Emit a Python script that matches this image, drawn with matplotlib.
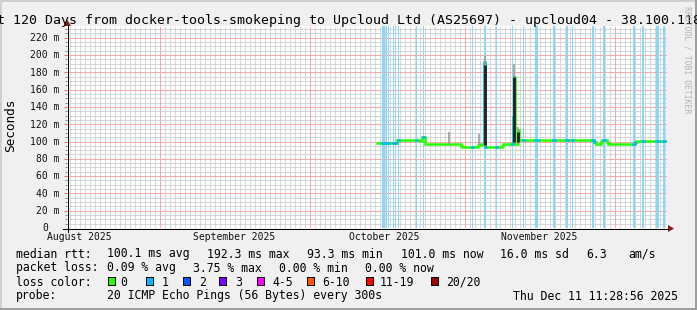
import numpy as np
import matplotlib
matplotlib.use("Agg")
import matplotlib.pyplot as plt
import matplotlib.dates as mdates
from matplotlib.patches import Rectangle, Polygon
from matplotlib.lines import Line2D
import pandas as pd

W, H, DPI = 697, 310, 100
MONO = "DejaVu Sans Mono"

# ---------------- data ----------------
title = "Last 120 Days from docker-tools-smokeping to Upcloud Ltd (AS25697) - upcloud04 - 38.100.118"
end_time = pd.Timestamp("2025-12-11 11:28:56")
span_days = 120

month_starts = ["2025-09-01", "2025-10-01", "2025-11-01", "2025-12-01"]
month_labels = ["August 2025", "September 2025", "October 2025", "November 2025"]
month_label_dates = ["2025-08-16", "2025-09-16", "2025-10-16", "2025-11-16"]

ytick_values = [0, 20, 40, 60, 80, 100, 120, 140, 160, 180, 200, 220]
y_unit = "m"
y_label = "Seconds"

# median RTT (ms), step series (value holds until next time)
median_times = [
    "2025-10-14 12:55", "2025-10-18 10:00", "2025-10-23 01:50", "2025-10-23 10:00",
    "2025-10-23 23:30", "2025-10-31 06:40", "2025-10-31 13:50", "2025-11-03 16:15",
    "2025-11-04 06:40", "2025-11-04 20:30", "2025-11-05 02:30", "2025-11-08 11:30",
    "2025-11-08 18:40", "2025-11-10 16:15", "2025-11-10 21:00", "2025-11-11 02:00",
    "2025-11-11 15:00", "2025-11-11 21:30", "2025-11-26 21:00", "2025-11-27 06:40",
    "2025-11-28 06:40", "2025-11-28 13:50", "2025-11-29 11:30", "2025-11-29 18:40",
    "2025-12-05 01:50", "2025-12-05 11:30", "2025-12-11 10:50",
]
median_values = [
    98.0, 102.3, 100.5, 104.8,
    97.1, 95.0, 93.3, 95.5,
    97.3, 192.3, 93.5, 95.0,
    97.3, 128.5, 175.0, 97.3,
    113.3, 102.0, 100.0, 97.3,
    100.0, 102.0, 100.0, 97.3,
    99.0, 101.0, 101.0,
]

# smoke (spread of pings) around a few samples
smoke_times = ["2025-10-28 21:00", "2025-11-03 21:00", "2025-11-04 23:30",
               "2025-11-10 22:00", "2025-11-11 18:00"]
smoke_low = [97.1, 95.5, 93.5, 97.3, 97.3]
smoke_dark_high = [97.1, 95.5, 189.0, 175.0, 111.0]
smoke_light_high = [111.0, 109.0, 199.0, 190.0, 117.0]

# periods with packet loss (1 of 20 lost): centre time, duration in hours
loss_times = [
    "2025-10-15 18:40", "2025-10-16 10:00", "2025-10-16 18:40", "2025-10-17 17:15",
    "2025-10-18 04:15", "2025-10-18 19:40", "2025-10-22 09:00", "2025-10-23 18:40",
    "2025-11-02 12:55", "2025-11-05 00:25", "2025-11-07 10:30", "2025-11-10 13:50",
    "2025-11-12 19:40", "2025-11-15 09:00", "2025-11-18 21:00", "2025-11-21 12:55",
    "2025-11-22 13:25", "2025-11-26 16:15", "2025-11-28 21:00", "2025-12-04 22:00",
    "2025-12-06 16:15", "2025-12-09 13:50", "2025-12-10 22:30",
]
loss_hours = [14, 6, 7, 6, 5, 5, 5, 8, 7, 10, 6, 6, 7, 14, 8, 10, 7, 10, 9, 8, 7, 12, 10]

# legend statistics
rtt_avg, rtt_max, rtt_min, rtt_now, rtt_sd, rtt_ams = 100.1, 192.3, 93.3, 101.0, 16.0, 6.3
loss_avg, loss_max, loss_min, loss_now = 0.09, 3.75, 0.00, 0.00
loss_color_labels = ["0", "1", "2", "3", "4-5", "6-10", "11-19", "20/20"]
loss_color_values = ["#26ff00", "#00b8ff", "#0059ff", "#7e00ff", "#ff00ff", "#ff5500", "#ff0000", "#a10000"]
probe_text = "20 ICMP Echo Pings (56 Bytes) every 300s"
stamp_text = "Thu Dec 11 11:28:56 2025"

# ---------------- figure ----------------
def fx(x):
    return x / W

def fy(y):
    return 1 - y / H

fig = plt.figure(figsize=(W / DPI, H / DPI), dpi=DPI, facecolor="#f0f0f0")

# 3D frame
fig.add_artist(Rectangle((0, fy(2)), 1, 2 / H, transform=fig.transFigure, color="#cfcfcf", lw=0))
fig.add_artist(Rectangle((0, 0), 2 / W, 1, transform=fig.transFigure, color="#cfcfcf", lw=0))
fig.add_artist(Rectangle((0, 0), 1, 2 / H, transform=fig.transFigure, color="#9e9e9e", lw=0))
fig.add_artist(Rectangle((1 - 2 / W, 0), 2 / W, 1, transform=fig.transFigure, color="#9e9e9e", lw=0))

PL, PR, PT, PB = 67, 667, 26, 228
ax = fig.add_axes([fx(PL), fy(PB), (PR - PL) / W, (PB - PT) / H])
ax.set_facecolor("white")
for s in ax.spines.values():
    s.set_visible(False)

start_time = end_time - pd.Timedelta(days=span_days)
t0, t1 = mdates.date2num(start_time), mdates.date2num(end_time)
ax.set_xlim(t0, t1)
ytop = (PB - PT) / 0.865
ax.set_ylim(0, ytop)
ax.set_xticks([])
ax.set_yticks(ytick_values[1:])
ax.set_yticks([v for v in np.arange(5, ytop, 5) if v % 20 != 0], minor=True)
ax.tick_params(axis="y", which="major", length=2.2, width=0.72, color="#e07070",
               labelleft=False, direction="out")
ax.tick_params(axis="y", which="minor", length=1.5, width=0.72, color="#888888",
               labelleft=False, direction="out")

dot = (0, (1, 1))
gkw = dict(lw=0.72, ls=dot, antialiased=False, snap=True)
# minor grid
for v in np.arange(5, ytop, 5):
    if v % 20 != 0:
        ax.axhline(v, color="#d6d6d6", zorder=1, **gkw)
for d in pd.date_range(start_time.normalize() + pd.Timedelta(days=1), end_time, freq="D"):
    ax.axvline(mdates.date2num(d), color="#d6d6d6", zorder=1, **gkw)
# major grid
for v in ytick_values[1:]:
    ax.axhline(v, color="#f4aaaa", zorder=1.5, **gkw)
for m in month_starts:
    ax.axvline(mdates.date2num(pd.Timestamp(m)), color="#f4aaaa", zorder=1.5, **gkw)

# loss bands
lt = mdates.date2num(pd.to_datetime(loss_times))
lw_days = np.array(loss_hours) / 24.0
for c, w in zip(lt, lw_days):
    ax.axvspan(c - w / 2, c + w / 2, color="#8ad8f7", lw=0, zorder=2, antialiased=False)

# median line
mt = mdates.date2num(pd.to_datetime(median_times))
mv = np.array(median_values)
ax.step(mt, mv, where="post", color="#26ff00", lw=1.8, zorder=3, solid_joinstyle="miter")

# loss-coloured parts of median
def step_val(t):
    i = np.searchsorted(mt, t, side="right") - 1
    return mv[np.clip(i, 0, len(mv) - 1)]

for c, w in zip(lt, lw_days):
    a, b = c - w / 2, c + w / 2
    a, b = max(a, mt[0]), min(b, mt[-1])
    if b <= a:
        continue
    ts = [a] + [t for t in mt if a < t < b] + [b]
    vs = [step_val(t) for t in ts]
    ax.step(ts, vs, where="post", color="#00b8ff", lw=1.8, zorder=4)

# smoke
st = mdates.date2num(pd.to_datetime(smoke_times))
for t, lo, dh, lh in zip(st, smoke_low, smoke_dark_high, smoke_light_high):
    ax.vlines(t, lo, lh, color="#9a9a9a", lw=1.2, zorder=5)
    if dh > lo:
        ax.vlines(t, lo + 2, dh, color="#202020", lw=2.0, zorder=5.2)

# axes lines and arrows
fig.add_artist(Line2D([fx(63), fx(668)], [fy(228.5), fy(228.5)], color="black", lw=0.72))
fig.add_artist(Line2D([fx(67.5), fx(67.5)], [fy(232), fy(25)], color="black", lw=0.72))
fig.add_artist(Polygon([(fx(668), fy(225)), (fx(674), fy(228.5)), (fx(668), fy(232))],
                       closed=True, transform=fig.transFigure, color="#8b1a1a", lw=0))
fig.add_artist(Polygon([(fx(64), fy(26)), (fx(67.5), fy(20)), (fx(71), fy(26))],
                       closed=True, transform=fig.transFigure, color="#8b1a1a", lw=0))

# y tick labels
CW_S = 5.7
for v in ytick_values:
    lbl = f"{v} {y_unit}" if v else "0"
    right = 59.3 if v else 59.3 - 2 * CW_S
    ax.annotate(lbl, xy=(0, v), xycoords=("axes fraction", "data"),
                xytext=(-(PL - right) * 0.72, -3.3 * 0.72), textcoords="offset points",
                ha="right", va="baseline", fontsize=7, family=MONO, color="#111111",
                annotation_clip=False)

# month labels
for lbl, d in zip(month_labels, month_label_dates):
    ax.annotate(lbl, xy=(mdates.date2num(pd.Timestamp(d)), 0),
                xycoords=("data", "axes fraction"),
                xytext=(0, -12 * 0.72), textcoords="offset points",
                ha="center", va="baseline", fontsize=7, family=MONO, color="#111111",
                annotation_clip=False)

def ftext(x, y, s, **kw):
    kw.setdefault("family", MONO)
    kw.setdefault("ha", "left")
    kw.setdefault("va", "baseline")
    kw.setdefault("color", "black")
    fig.text(fx(x), fy(y), s, **kw)

# title
ftext(-27, 24, title, fontsize=9.5)
# vertical label
ftext(10.5, 125, y_label, fontsize=9.2, rotation=90, ha="center", va="center")
# watermark
ftext(687, 60, "RRDTOOL / TOBI OETIKER", fontsize=5.9, rotation=270,
      ha="center", va="center", color="#b4b4b4")

LF = 8.3
r1, r2, r3, r4 = 257.5, 271.5, 285.5, 299.5
ftext(16, r1, "median rtt:", fontsize=LF)
ftext(107, r1, f"{rtt_avg:.1f} ms avg", fontsize=LF)
ftext(207, r1, f"{rtt_max:.1f} ms max", fontsize=LF)
ftext(307, r1, f"{rtt_min:.1f} ms min", fontsize=LF)
ftext(400.7, r1, f"{rtt_now:.1f} ms now", fontsize=LF)
ftext(500, r1, f"{rtt_sd:.1f} ms sd", fontsize=LF)
ftext(586.7, r1, f"{rtt_ams:.1f}", fontsize=LF)
ftext(628, r1, "am/s", fontsize=LF)

ftext(16, r2, "packet loss:", fontsize=LF)
ftext(107, r2, f"{loss_avg:.2f} % avg", fontsize=LF)
ftext(193.3, r2, f"{loss_max:.2f} % max", fontsize=LF)
ftext(279.3, r2, f"{loss_min:.2f} % min", fontsize=LF)
ftext(365, r2, f"{loss_now:.2f} % now", fontsize=LF)

ftext(16, r3, "loss color:", fontsize=LF)
box_x = [108.3, 145.7, 182.7, 219.3, 256.7, 306.7, 365.7, 431.0]
lbl_x = [120.7, 161.7, 199.0, 235.0, 272.7, 322.7, 380.0, 445.7]
for bx, lx, lab, col in zip(box_x, lbl_x, loss_color_labels, loss_color_values):
    fig.add_artist(Rectangle((fx(bx), fy(285.3)), 7 / W, 8 / H, transform=fig.transFigure,
                             facecolor=col, edgecolor="black", lw=0.72))
    ftext(lx, r3, lab, fontsize=LF)

ftext(16, r4, "probe:", fontsize=LF)
ftext(107, r4, probe_text, fontsize=LF)
ftext(513.3, r4, stamp_text, fontsize=LF)

fig.savefig("out.png", dpi=DPI, facecolor=fig.get_facecolor())
